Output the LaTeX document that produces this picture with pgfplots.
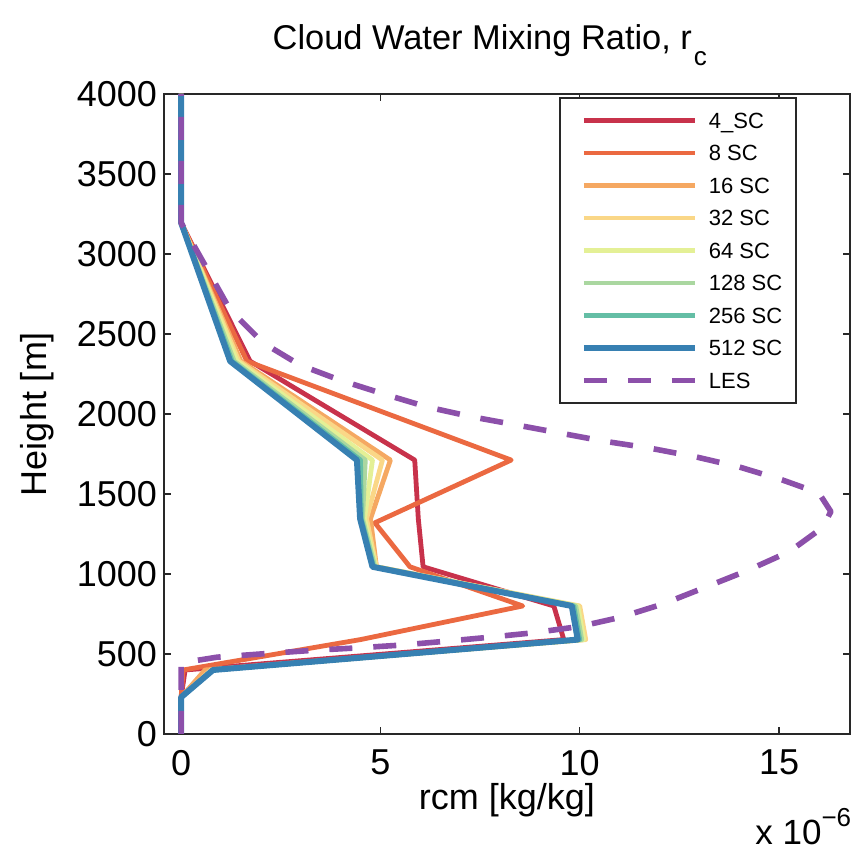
\documentclass[border=0pt]{standalone}
\usepackage{pgfplots}
\pgfplotsset{compat=1.18}
\usepackage{fontspec}
\setmainfont{Liberation Sans}
\usetikzlibrary{calc}

% Spectral-like palette for the SC runs, purple for LES
\definecolor{cA}{RGB}{200,50,75}
\definecolor{cB}{RGB}{235,105,65}
\definecolor{cC}{RGB}{245,168,98}
\definecolor{cD}{RGB}{250,215,135}
\definecolor{cE}{RGB}{228,240,150}
\definecolor{cF}{RGB}{170,215,160}
\definecolor{cG}{RGB}{100,190,165}
\definecolor{cH}{RGB}{55,128,178}
\definecolor{cLES}{RGB}{140,80,170}
\definecolor{frame}{RGB}{40,40,40}

\begin{document}
\begin{tikzpicture}
\begin{axis}[
  scale only axis,
  width=343pt, height=320pt,
  xmin=-0.43, xmax=16.78, ymin=0, ymax=4000,
  clip mode=individual,
  xtick={0,5,10,15},
  ytick={0,500,...,4000},
  scaled ticks=false,
  /pgf/number format/1000 sep={},
  /pgf/number format/assume math mode=true,
  tick align=inside, tick pos=both,
  major tick length=3.5pt,
  tick style={frame, line width=0.6pt},
  axis line style={frame, line width=0.9pt},
  ticklabel style={font=\fontsize{18}{18}\selectfont},
  xticklabel style={yshift=-4.5pt},
  xlabel={rcm [kg/kg]},
  ylabel={Height [m]},
  label style={font=\fontsize{18}{18}\selectfont},
  xlabel style={at={(axis description cs:0.5,-0.104)}, anchor=center},
  ylabel style={at={(axis description cs:-0.185,0.5)}, anchor=center},
  legend cell align=left,
  legend style={
    at={(axis description cs:0.923,0.995)}, anchor=north east,
    draw=frame, line width=0.9pt,
    font=\fontsize{11}{11}\selectfont,
    inner xsep=7pt, inner ysep=3.1pt,
    row sep=0pt, column sep=5.5pt,
    nodes={inner sep=0pt, text height=12.1pt, text depth=4.15pt},
  },
  legend image code/.code={\path (0pt,0pt); \draw[#1] (3.5pt,0pt) -- (59pt,0pt);},
  every axis plot/.append style={line join=round},
]

% SC runs: rcm in units of 1e-6 kg/kg, height in m
\addplot[cA, line width=2.4pt] coordinates {
  (0,0) (0,230) (0.1,400) (9.6,590) (9.35,800) (6.07,1045) (5.95,1345) (5.86,1712) (1.73,2330) (0,3195) (0,4000)};
\addlegendentry{4\_SC}
\addplot[cB, line width=2.4pt] coordinates {
  (0,0) (0,230) (0.05,400) (4.5,590) (8.57,800) (5.74,1045) (4.86,1320) (8.28,1712) (1.65,2330) (0,3195) (0,4000)};
\addlegendentry{8 SC}
\addplot[cC, line width=2.4pt] coordinates {
  (0,0) (0,230) (0.6,400) (10.1,590) (9.9,800) (4.9,1045) (4.75,1345) (5.25,1712) (1.5,2330) (0,3195) (0,4000)};
\addlegendentry{16 SC}
\addplot[cD, line width=2.4pt] coordinates {
  (0,0) (0,230) (0.75,400) (10.15,590) (10.0,800) (4.9,1045) (4.65,1345) (5.05,1712) (1.45,2330) (0,3195) (0,4000)};
\addlegendentry{32 SC}
\addplot[cE, line width=2.4pt] coordinates {
  (0,0) (0,230) (0.8,400) (10.1,590) (9.95,800) (4.88,1045) (4.6,1345) (4.8,1712) (1.4,2330) (0,3195) (0,4000)};
\addlegendentry{64 SC}
\addplot[cF, line width=2.4pt] coordinates {
  (0,0) (0,230) (0.8,400) (10.05,590) (9.9,800) (4.86,1045) (4.55,1345) (4.62,1712) (1.33,2330) (0,3195) (0,4000)};
\addlegendentry{128 SC}
\addplot[cG, line width=2.4pt] coordinates {
  (0,0) (0,230) (0.8,400) (10.0,590) (9.85,800) (4.83,1045) (4.52,1345) (4.5,1712) (1.28,2330) (0,3195) (0,4000)};
\addlegendentry{256 SC}
\addplot[cH, line width=3pt] coordinates {
  (0,0) (0,230) (0.8,400) (9.95,590) (9.8,800) (4.8,1045) (4.49,1345) (4.41,1712) (1.23,2330) (0,3195) (0,4000)};
\addlegendentry{512 SC}
% LES reference profile
\addplot[cLES, line width=2.8pt, dash pattern=on 11.5pt off 10.5pt] coordinates {
  (0,0) (0,444) (0.9,480) (2.16,503) (3.26,522) (4.41,538) (5.49,555) (6.57,578)
  (7.67,603) (8.82,632) (10.0,672) (11.0,728) (12.08,812) (13.08,910) (14.19,1020)
  (15.26,1140) (16.09,1290) (16.3,1390) (16.0,1506) (15.09,1587) (14.0,1669)
  (12.93,1731) (11.75,1787) (10.58,1831) (9.5,1881) (8.42,1931) (7.32,1981)
  (6.17,2044) (5.16,2119) (3.98,2212) (2.98,2306) (2.06,2444) (1.23,2650)
  (0,3195) (0,4000)};
\addlegendentry{LES}

\node[anchor=base, font=\fontsize{17.2}{17.2}\selectfont]
  at (axis description cs:0.475,1.069)
  {Cloud Water Mixing Ratio, r\kern1pt\raisebox{-8pt}{\fontsize{13}{13}\selectfont c}};
\node[anchor=base west, inner sep=0pt, font=\fontsize{17.5}{17.5}\selectfont]
  at (axis description cs:0.8615,-0.173)
  {x 10\raisebox{9pt}{\fontsize{13}{13}\selectfont −6}};
\end{axis}
\pgfresetboundingbox
\path[use as bounding box] ($(current axis.south west)+(-82pt,-56.5pt)$)
  rectangle ($(current axis.north east)+(1.5pt,47pt)$);
\end{tikzpicture}
\end{document}
